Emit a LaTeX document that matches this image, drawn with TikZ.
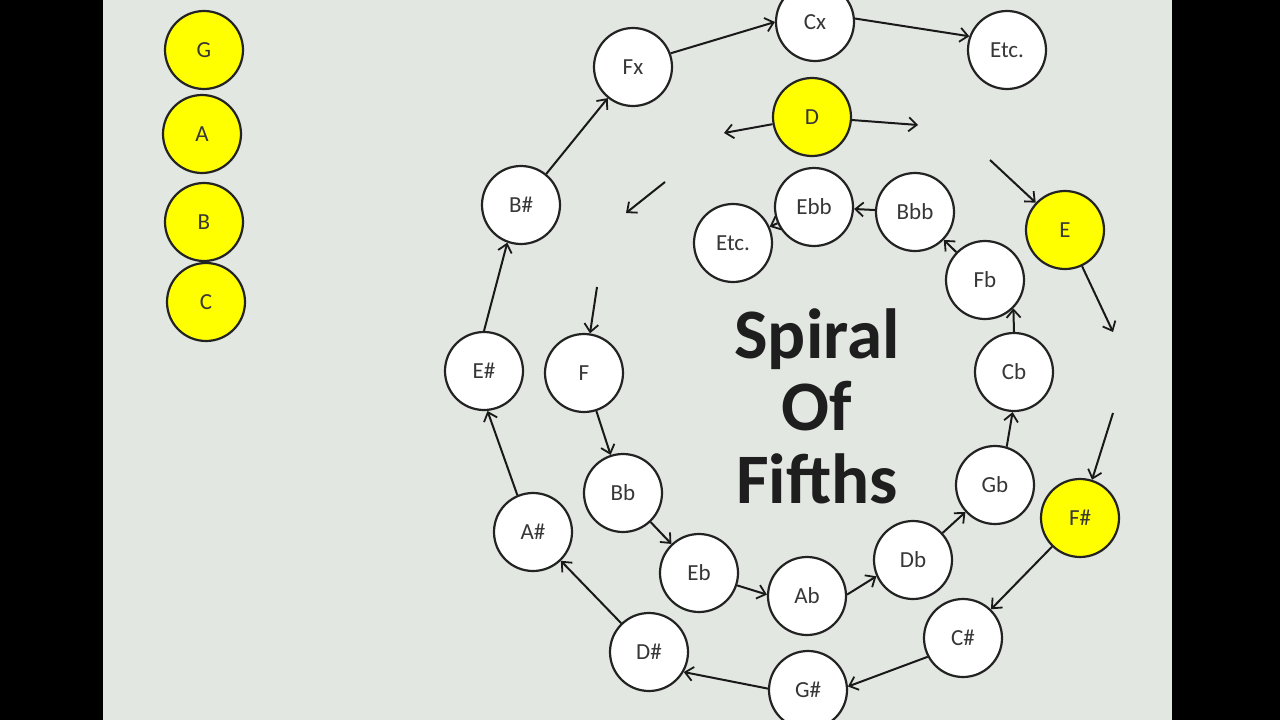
\documentclass[tikz,border=0pt]{standalone}
\usepackage{fontspec}
\setmainfont{Carlito}
\usetikzlibrary{arrows.meta}
\definecolor{bgc}{RGB}{226,231,225}
\definecolor{yel}{RGB}{255,255,0}
\definecolor{edge}{RGB}{35,35,35}
\definecolor{lbl}{RGB}{55,55,55}
\definecolor{ttl}{RGB}{30,30,30}
\begin{document}
\begin{tikzpicture}[x=1pt,y=-1pt,
  note/.style={circle,draw=edge,line width=2.2pt,fill=white,minimum size=78pt,inner sep=0pt,
    text=lbl,font=\fontsize{23}{25}\selectfont},
  hot/.style={note,fill=yel},
  arr/.style={line width=2pt,draw=black!90,-{Straight Barb[length=8pt,width=14pt,line width=1.8pt]}},
  ttlstyle/.style={text=ttl,font=\fontsize{71}{72}\selectfont\bfseries,inner sep=0pt,anchor=base}]
\useasboundingbox (0,0) rectangle (1280,720);
\fill[black] (0,0) rectangle (1280,720);
\fill[bgc] (103,0) rectangle (1172,720);

% left column
\node[hot] (G) at (204,50) {G};
\node[hot] (A) at (202,134) {A};
\node[hot] (B) at (204,222) {B};
\node[hot] (C) at (206,302) {C};

% title
\node[ttlstyle] (t1) at (817,358) {Spiral};
\node[ttlstyle] (t2) at (817,430) {Of};
\node[ttlstyle] (t3) at (817,503) {Fifths};

% outer spiral
\node[note] (Fx) at (633,67) {Fx};
\node[note] (Cx) at (815,22) {Cx};
\node[note] (Etc1) at (1007,50) {Etc.};
\node[hot] (D) at (812,117) {D};
\node[note] (Bs) at (521,205) {B\#};
\node[hot] (E) at (1065,230) {E};
\node[note] (Es) at (484,371) {E\#};
\node[hot] (Fs) at (1080,518) {F\#};
\node[note] (As) at (533,532) {A\#};
\node[note] (Cs) at (963,638) {C\#};
\node[note] (Ds) at (649,652) {D\#};
\node[note] (Gs) at (808,690) {G\#};

% inner spiral
\node[note] (F) at (584,373) {F};
\node[note] (Bb) at (623,493) {Bb};
\node[note] (Eb) at (699,573) {Eb};
\node[note] (Ab) at (807,596) {Ab};
\node[note] (Db) at (913,560) {Db};
\node[note] (Gb) at (995,485) {Gb};
\node[note] (Cb) at (1014,372) {Cb};
\node[note] (Fb) at (985,280) {Fb};
\node[note] (Bbb) at (915,212) {Bbb};
\node[note] (Ebb) at (814,207) {Ebb};
\node[note] (Etc2) at (733,243) {Etc.};

% free arrow ends
\coordinate (dl) at (724,133);
\coordinate (dr) at (918,125);
\coordinate (eS) at (990,160);
\coordinate (eE) at (1113,332);
\coordinate (fsS) at (1113,413);
\coordinate (fa1) at (665,182);
\coordinate (fa2) at (626,213);
\coordinate (fS) at (597,287);

% arrows around D and E
\draw[arr] (D) -- (dl);
\draw[arr] (D) -- (dr);
\draw[arr] (eS) -- (E);
\draw[arr] (E) -- (eE);
\draw[arr] (fsS) -- (Fs);
\draw[arr] (fa1) -- (fa2);
\draw[arr] (fS) -- (F);

% outer chain
\draw[arr] (Fs) -- (Cs);
\draw[arr] (Cs.208) -- (Gs.5);
\draw[arr] (Gs.178) -- (Ds.-30);
\draw[arr] (Ds) -- (As);
\draw[arr] (As.113) -- (Es.-85);
\draw[arr] (Es.north) -- (Bs.250);
\draw[arr] (Bs) -- (Fx);
\draw[arr] (Fx.20) -- (Cx.west);
\draw[arr] (Cx.5) -- (Etc1.160);

% inner chain
\draw[arr] (F) -- (Bb);
\draw[arr] (Bb) -- (Eb);
\draw[arr] (Eb.-18) -- (Ab.178);
\draw[arr] (Ab.2) -- (Db.204);
\draw[arr] (Db) -- (Gb);
\draw[arr] (Gb.73) -- (Cb.268);
\draw[arr] (Cb.north) -- (Fb.-45);
\draw[arr] (Fb) -- (Bbb);
\draw[arr] (Bbb) -- (Ebb);
\draw[arr] (Ebb) -- (Etc2);
\end{tikzpicture}
\end{document}
